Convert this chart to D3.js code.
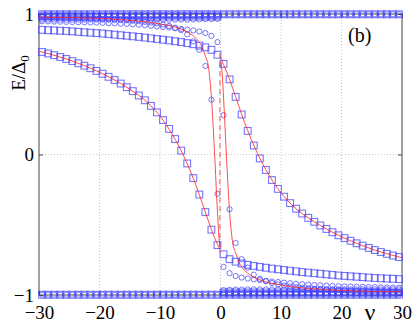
<!DOCTYPE html>
<meta charset="utf-8">
<style>
  body { margin: 0; background: #fff; }
  svg { display: block; }
</style>
<svg width="415" height="330"></svg>
<script src="https://d3js.org/d3.v7.min.js"></script>
<script>

// sampling points (nu)
var nu = [-29.5,-28.5,-27.5,-26.5,-25.5,-24.5,-23.5,-22.5,-21.5,-20.5,
          -19.5,-18.5,-17.5,-16.5,-15.5,-14.5,-13.5,-12.5,-11.5,-10.5,
          -9.5,-8.5,-7.5,-6.5,-5.5,-4.5,-3.5,-2.5,-1.5,-0.5,
          0.5,1.5,2.5,3.5,4.5,5.5,6.5,7.5,8.5,9.5,
          10.5,11.5,12.5,13.5,14.5,15.5,16.5,17.5,18.5,19.5,
          20.5,21.5,22.5,23.5,24.5,25.5,26.5,27.5,28.5,29.5];

// squares
var sqA = [0.730,0.719,0.707,0.694,0.680,0.665,0.649,0.632,0.614,0.595,
           0.575,0.553,0.530,0.505,0.479,0.451,0.420,0.386,0.346,0.300,
           0.245,0.182,0.110,0.028,-0.064,-0.168,-0.285,-0.410,-0.535,-0.645,
           -0.710,-0.745,-0.763,-0.775,-0.785,-0.793,-0.800,-0.806,-0.812,-0.817,
           -0.822,-0.827,-0.832,-0.837,-0.841,-0.845,-0.849,-0.853,-0.857,-0.861,
           -0.864,-0.867,-0.870,-0.873,-0.876,-0.879,-0.881,-0.883,-0.885,-0.887];
var sqB = [0.887,0.885,0.883,0.881,0.879,0.876,0.873,0.870,0.867,0.864,
           0.861,0.857,0.853,0.849,0.845,0.841,0.837,0.832,0.827,0.822,
           0.817,0.812,0.806,0.800,0.793,0.785,0.775,0.763,0.745,0.710,
           0.645,0.535,0.410,0.285,0.168,0.064,-0.028,-0.110,-0.182,-0.245,
           -0.300,-0.346,-0.386,-0.420,-0.451,-0.479,-0.505,-0.530,-0.553,-0.575,
           -0.595,-0.614,-0.632,-0.649,-0.665,-0.680,-0.694,-0.707,-0.719,-0.730];
var sqTop = [0.998,0.998,0.998,0.998,0.998,0.998,0.998,0.998,0.998,0.998,
             0.998,0.998,0.998,0.998,0.998,0.998,0.998,0.998,0.998,0.998,
             0.998,0.998,0.998,0.998,0.998,0.998,0.998,0.998,0.998,0.998,
             0.998,0.998,0.998,0.998,0.998,0.998,0.998,0.998,0.998,0.998,
             0.998,0.998,0.998,0.998,0.998,0.998,0.998,0.998,0.998,0.998,
             0.998,0.998,0.998,0.998,0.998,0.998,0.998,0.998,0.998,0.998];
var sqBot = [-0.998,-0.998,-0.998,-0.998,-0.998,-0.998,-0.998,-0.998,-0.998,-0.998,
             -0.998,-0.998,-0.998,-0.998,-0.998,-0.998,-0.998,-0.998,-0.998,-0.998,
             -0.998,-0.998,-0.998,-0.998,-0.998,-0.998,-0.998,-0.998,-0.998,-0.998,
             -0.998,-0.998,-0.998,-0.998,-0.998,-0.998,-0.998,-0.998,-0.998,-0.998,
             -0.998,-0.998,-0.998,-0.998,-0.998,-0.998,-0.998,-0.998,-0.998,-0.998,
             -0.998,-0.998,-0.998,-0.998,-0.998,-0.998,-0.998,-0.998,-0.998,-0.998];
var sqMid = [0.982,0.982,0.982,0.982,0.982,0.982,0.982,0.982,0.982,0.982,
             0.982,0.982,0.982,0.982,0.982,0.982,0.982,0.982,0.982,0.982,
             0.982,0.982,0.982,0.982,0.982,0.982,0.982,0.982,0.982,0.982,
             -0.982,-0.982,-0.982,-0.982,-0.982,-0.982,-0.982,-0.982,-0.982,-0.982,
             -0.982,-0.982,-0.982,-0.982,-0.982,-0.982,-0.982,-0.982,-0.982,-0.982,
             -0.982,-0.982,-0.982,-0.982,-0.982,-0.982,-0.982,-0.982,-0.982,-0.982];

// circles
var ciA = [0.977,0.977,0.976,0.975,0.974,0.973,0.972,0.970,0.969,0.967,
           0.965,0.963,0.960,0.958,0.955,0.952,0.948,0.944,0.939,0.933,
           0.925,0.915,0.902,0.885,0.855,0.805,0.745,0.630,0.390,-0.280,
           -0.965,-0.963,-0.962,-0.961,-0.960,-0.960,-0.960,-0.960,-0.960,-0.960,
           -0.960,-0.960,-0.960,-0.960,-0.960,-0.960,-0.960,-0.960,-0.960,-0.960,
           -0.960,-0.960,-0.960,-0.960,-0.960,-0.960,-0.960,-0.960,-0.960,-0.960];
var ciB = [0.960,0.960,0.960,0.960,0.960,0.960,0.960,0.960,0.960,0.960,
           0.960,0.960,0.960,0.960,0.960,0.960,0.960,0.960,0.960,0.960,
           0.960,0.960,0.960,0.960,0.960,0.961,0.962,0.963,0.964,0.965,
           0.280,-0.390,-0.630,-0.745,-0.805,-0.855,-0.885,-0.902,-0.915,-0.925,
           -0.933,-0.939,-0.944,-0.948,-0.952,-0.955,-0.958,-0.960,-0.963,-0.965,
           -0.967,-0.969,-0.970,-0.972,-0.973,-0.974,-0.975,-0.976,-0.977,-0.977];
var ciC = [0.948,0.947,0.946,0.945,0.944,0.943,0.942,0.941,0.940,0.939,
           0.937,0.935,0.933,0.931,0.929,0.926,0.923,0.920,0.916,0.912,
           0.908,0.904,0.899,0.894,0.889,0.883,0.876,0.865,0.845,0.800,
           -0.985,-0.985,-0.985,-0.985,-0.985,-0.985,-0.985,-0.985,-0.985,-0.985,
           -0.985,-0.985,-0.985,-0.985,-0.985,-0.985,-0.985,-0.985,-0.985,-0.985,
           -0.985,-0.985,-0.985,-0.985,-0.985,-0.985,-0.985,-0.985,-0.985,-0.985];
var ciD = [0.985,0.985,0.985,0.985,0.985,0.985,0.985,0.985,0.985,0.985,
           0.985,0.985,0.985,0.985,0.985,0.985,0.985,0.985,0.985,0.985,
           0.985,0.985,0.985,0.985,0.985,0.985,0.985,0.985,0.985,0.985,
           -0.800,-0.845,-0.865,-0.876,-0.883,-0.889,-0.894,-0.899,-0.904,-0.908,
           -0.912,-0.916,-0.920,-0.923,-0.926,-0.929,-0.931,-0.933,-0.935,-0.937,
           -0.939,-0.940,-0.941,-0.942,-0.943,-0.944,-0.945,-0.946,-0.947,-0.948];
var ciTop = sqTop, ciBot = sqBot;

// red curves
var redLnu = [-30,-27,-24,-21,-18,-15,-12,-10,-8,-6,-4,-3,-2,-1,-0.5,0];
var redLe  = [0.735,0.700,0.657,0.605,0.542,0.465,0.367,0.273,0.146,-0.018,-0.226,-0.348,-0.473,-0.590,-0.640,-0.690];
var redRnu = [0,0.5,1,2,3,4,6,8,10,12,15,18,21,24,27,30];
var redRe  = [0.690,0.640,0.590,0.473,0.348,0.226,0.018,-0.146,-0.273,-0.367,-0.465,-0.542,-0.605,-0.657,-0.700,-0.735];
var red1nu = [-30,-25,-20,-15,-12,-9.5,-7,-5,-4,-3,-2.5,-2,-1.75,-1.5,-1.3,-1.1,-0.9,-0.7,-0.5,-0.3,-0.1];
var red1e  = [0.978,0.975,0.968,0.955,0.943,0.925,0.900,0.860,0.825,0.760,0.700,0.625,0.535,0.410,0.270,0.110,-0.060,-0.240,-0.410,-0.560,-0.660];
var red2nu = [0.1,0.3,0.5,0.7,0.9,1.1,1.3,1.5,1.75,2,2.5,3,4,5,7,9.5,12,15,20,25,30];
var red2e  = [0.660,0.560,0.410,0.240,0.060,-0.110,-0.270,-0.410,-0.535,-0.625,-0.700,-0.760,-0.825,-0.860,-0.900,-0.925,-0.943,-0.955,-0.968,-0.975,-0.978];
var jumpNu = [-0.1,-0.1];
var jumpE  = [0.72,-0.70];

var xTicks = [-30,-20,-10,0,10,20,30];
var yTicks = [-1,0,1];

var serif = "'Liberation Serif', 'Times New Roman', serif";
var svg = d3.select("svg");
var x = d3.scaleLinear().domain([-30, 30]).range([39, 402]);
var y = d3.scaleLinear().domain([-1, 1]).range([295, 14]);

// dotted grid
var grid = svg.append("g").attr("stroke", "#b8b8b8").attr("stroke-width", 0.8).attr("stroke-dasharray", "1,2");
grid.selectAll(".gx").data([-20,-10,0,10,20]).enter().append("line")
    .attr("x1", function(d) { return x(d); }).attr("x2", function(d) { return x(d); })
    .attr("y1", y(1)).attr("y2", y(-1));
grid.append("line").attr("x1", x(-30)).attr("x2", x(30)).attr("y1", y(0)).attr("y2", y(0));

// box + ticks
svg.append("rect").attr("x", x(-30)).attr("y", y(1)).attr("width", x(30) - x(-30)).attr("height", y(-1) - y(1))
    .attr("fill", "none").attr("stroke", "#444").attr("stroke-width", 1);

var fmt = d3.format("d");
function styleAxis(g) {
  g.attr("font-family", serif).attr("font-size", 19);
  g.select(".domain").remove();
  g.selectAll(".tick line").attr("stroke", "#444");
  g.selectAll(".tick text").attr("fill", "#000");
}
svg.append("g").attr("transform", "translate(0," + y(-1) + ")")
    .call(d3.axisBottom(x).tickValues(xTicks).tickFormat(fmt).tickSize(-4).tickPadding(11)).call(styleAxis);
svg.append("g").attr("transform", "translate(0," + y(1) + ")")
    .call(d3.axisTop(x).tickValues(xTicks).tickSize(-4).tickFormat("")).call(styleAxis);
svg.append("g").attr("transform", "translate(" + x(-30) + ",0)")
    .call(d3.axisLeft(y).tickValues(yTicks).tickFormat(fmt).tickSize(-4).tickPadding(5)).call(styleAxis);
svg.append("g").attr("transform", "translate(" + x(30) + ",0)")
    .call(d3.axisRight(y).tickValues(yTicks).tickSize(-4).tickFormat("")).call(styleAxis);

// markers
var blue = "#3c3cff";
function squares(vals) {
  svg.append("g").selectAll("rect").data(vals).enter().append("rect")
    .attr("x", function(d, i) { return x(nu[i]) - 3.4; })
    .attr("y", function(d) { return y(d) - 3.4; })
    .attr("width", 6.8).attr("height", 6.8)
    .attr("fill", "none").attr("stroke", blue).attr("stroke-opacity", 0.7).attr("stroke-width", 1.1);
}
function circles(vals) {
  svg.append("g").selectAll("circle").data(vals).enter().append("circle")
    .attr("cx", function(d, i) { return x(nu[i]); })
    .attr("cy", function(d) { return y(d); })
    .attr("r", 2.6)
    .attr("fill", "none").attr("stroke", blue).attr("stroke-opacity", 0.7).attr("stroke-width", 1);
}
[sqTop, sqBot, sqMid, sqA, sqB].forEach(squares);
[ciTop, ciBot, ciA, ciB, ciC, ciD].forEach(circles);

// red lines
var line = d3.line()
    .x(function(d) { return x(d[0]); })
    .y(function(d) { return y(d[1]); })
    .curve(d3.curveMonotoneX);
function redLine(ns, es, dash) {
  svg.append("path").datum(d3.zip(ns, es))
    .attr("d", line).attr("fill", "none")
    .attr("stroke", "#ff2020").attr("stroke-opacity", 0.8).attr("stroke-width", 1)
    .attr("stroke-dasharray", dash || null);
}
redLine(redLnu, redLe);
redLine(redRnu, redRe);
redLine(red1nu, red1e);
redLine(red2nu, red2e);
redLine(jumpNu, jumpE, "5,4");

// labels
svg.append("text").attr("x", 348).attr("y", 42)
    .attr("font-family", serif).attr("font-size", 20).text("(b)");
svg.append("text").attr("x", 370).attr("y", 320).attr("text-anchor", "middle")
    .attr("font-family", serif).attr("font-size", 24).text("ν");
var yl = svg.append("text").attr("transform", "translate(25,73) rotate(-90)").attr("text-anchor", "middle")
    .attr("font-family", serif).attr("font-size", 19);
yl.append("tspan").text("E/Δ");
yl.append("tspan").attr("font-size", 13).attr("dy", 4).text("0");

</script>
